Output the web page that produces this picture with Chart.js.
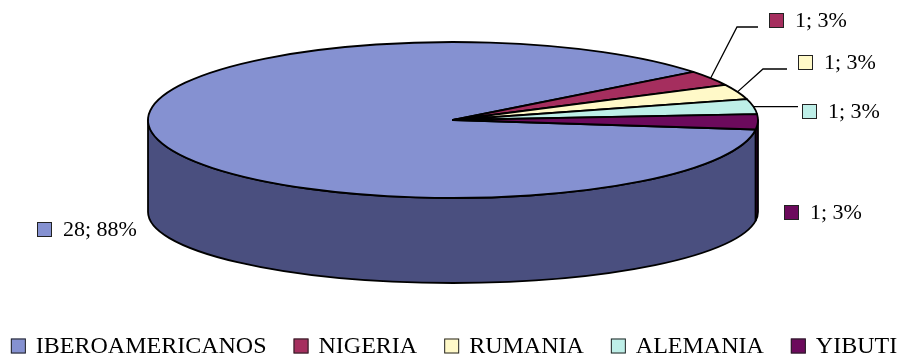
<!DOCTYPE html>
<html>
<head>
<meta charset="utf-8">
<script src="https://cdn.jsdelivr.net/npm/chart.js@4/dist/chart.umd.min.js"></script>
<style>
  html, body { margin: 0; padding: 0; background: #ffffff; }
  #wrap { width: 902px; height: 356px; }
</style>
</head>
<body>
<div id="wrap"><canvas id="c" width="902" height="356"></canvas></div>
<script>
// ---- data ----
const categories = ['IBEROAMERICANOS', 'NIGERIA', 'RUMANIA', 'ALEMANIA', 'YIBUTI'];
const counts = [28, 1, 1, 1, 1];

// ---- styling ----
const topColors  = ['#8591D1', '#A52E5E', '#FFF9C8', '#BEEFE8', '#6C0A5C'];
const sideColors = ['#4A4F7F', '#5C1A36', '#8A8660', '#6A8680', '#42053A'];
const FONT = '"Liberation Serif", "DejaVu Serif", serif';
const STRETCH = 3.91;       // horizontal / vertical radius of the top face
const DEPTH = 92;           // thickness of the disc at its left/right edge
const BOTTOM_SQUASH = 0.91; // bottom rim is a little flatter (perspective)
const OUTLINE = '#000000';

// value labels: swatch top-left corner, and optional leader elbow
const labelBoxes = [[37, 222], [769, 13], [798, 55], [802, 104], [784, 205]];
const leaderElbows = [null, [737, 27], [763, 69], 'flat', null];
const SWATCH = 15;

const total = counts.reduce((a, b) => a + b, 0);
const pctText = v => Math.round(v / total * 100) + '%';

function ellipseGeom(chart) {
  const arcs = chart.getDatasetMeta(0).data;
  const p = arcs[0].getProps(['x', 'y', 'outerRadius'], true);
  const ry = p.outerRadius;
  return {
    arcs, cx: p.x, cy: p.y, ry, rx: ry * STRETCH,
    cyb: p.y + DEPTH, ryb: ry * BOTTOM_SQUASH
  };
}

const pie3d = {
  id: 'pie3d',
  beforeDatasetsDraw(chart) {
    const ctx = chart.ctx;
    const g = ellipseGeom(chart);
    ctx.save();
    ctx.lineWidth = 1.8;
    ctx.strokeStyle = OUTLINE;
    ctx.lineJoin = 'round';

    // front walls (angles between 0 and PI face the viewer)
    g.arcs.forEach((arc, i) => {
      const a = arc.getProps(['startAngle', 'endAngle'], true);
      [-2 * Math.PI, 0, 2 * Math.PI].forEach(base => {
        const lo = Math.max(a.startAngle, base);
        const hi = Math.min(a.endAngle, base + Math.PI);
        if (hi - lo <= 1e-6) return;
        ctx.beginPath();
        ctx.ellipse(g.cx, g.cy, g.rx, g.ry, 0, lo, hi);
        ctx.lineTo(g.cx + g.rx * Math.cos(hi), g.cyb + g.ryb * Math.sin(hi));
        ctx.ellipse(g.cx, g.cyb, g.rx, g.ryb, 0, hi, lo, true);
        ctx.closePath();
        ctx.fillStyle = sideColors[i];
        ctx.fill();
        ctx.stroke();
      });
    });

    // top faces
    g.arcs.forEach((arc, i) => {
      const a = arc.getProps(['startAngle', 'endAngle'], true);
      ctx.beginPath();
      ctx.moveTo(g.cx, g.cy);
      ctx.ellipse(g.cx, g.cy, g.rx, g.ry, 0, a.startAngle, a.endAngle);
      ctx.closePath();
      ctx.fillStyle = topColors[i];
      ctx.fill();
      ctx.stroke();
    });
    ctx.restore();
    return false;
  },
  afterDraw(chart) {
    const ctx = chart.ctx;
    const g = ellipseGeom(chart);
    ctx.save();

    // value labels with leader lines
    ctx.font = '22px ' + FONT;
    ctx.textBaseline = 'middle';
    ctx.textAlign = 'left';
    g.arcs.forEach((arc, i) => {
      const a = arc.getProps(['startAngle', 'endAngle'], true);
      const mid = (a.startAngle + a.endAngle) / 2;
      const rimX = g.cx + g.rx * Math.cos(mid);
      const rimY = g.cy + g.ry * Math.sin(mid);
      const [bx, by] = labelBoxes[i];
      const elbow = leaderElbows[i];
      if (elbow) {
        ctx.beginPath();
        ctx.lineWidth = 1.3;
        ctx.strokeStyle = '#000';
        ctx.moveTo(rimX, rimY);
        if (elbow === 'flat') {
          ctx.lineTo(bx - 4, rimY);
        } else {
          ctx.lineTo(elbow[0], elbow[1]);
          ctx.lineTo(bx - 11, elbow[1]);
        }
        ctx.stroke();
      }
      ctx.fillStyle = topColors[i];
      ctx.fillRect(bx, by, SWATCH, SWATCH);
      ctx.lineWidth = 1;
      ctx.strokeStyle = '#222';
      ctx.strokeRect(bx + 0.5, by + 0.5, SWATCH - 1, SWATCH - 1);
      ctx.fillStyle = '#000';
      ctx.fillText(counts[i] + '; ' + pctText(counts[i]), bx + SWATCH + 11, by + SWATCH / 2 + 1);
    });

    // legend row
    ctx.font = '24px ' + FONT;
    const gapBoxText = 10, gapItems = 27;
    const widths = categories.map(c => SWATCH + gapBoxText + ctx.measureText(c).width);
    const totalW = widths.reduce((s, w) => s + w, 0) + gapItems * (categories.length - 1);
    let x = 454 - totalW / 2;
    const ly = 346;
    categories.forEach((c, i) => {
      ctx.fillStyle = topColors[i];
      ctx.fillRect(x, ly - SWATCH / 2, SWATCH, SWATCH);
      ctx.lineWidth = 1;
      ctx.strokeStyle = '#222';
      ctx.strokeRect(x + 0.5, ly - SWATCH / 2 + 0.5, SWATCH - 1, SWATCH - 1);
      ctx.fillStyle = '#000';
      ctx.fillText(c, x + SWATCH + gapBoxText, ly + 1);
      x += widths[i] + gapItems;
    });
    ctx.restore();
  }
};

function build() {
  new Chart(document.getElementById('c'), {
    type: 'pie',
    data: {
      labels: categories,
      datasets: [{ data: counts, backgroundColor: topColors, borderWidth: 0 }]
    },
    options: {
      responsive: false,
      animation: false,
      events: [],
      rotation: 97,
      layout: { padding: { top: 42, bottom: 158, left: 4, right: 0 } },
      plugins: { legend: { display: false }, tooltip: { enabled: false } }
    },
    plugins: [pie3d]
  });
}

// make sure the serif face is ready before the canvas text is drawn
Promise.all([
  document.fonts.load('22px "Liberation Serif"'),
  document.fonts.load('24px "Liberation Serif"')
]).then(build, build);
</script>
</body>
</html>
